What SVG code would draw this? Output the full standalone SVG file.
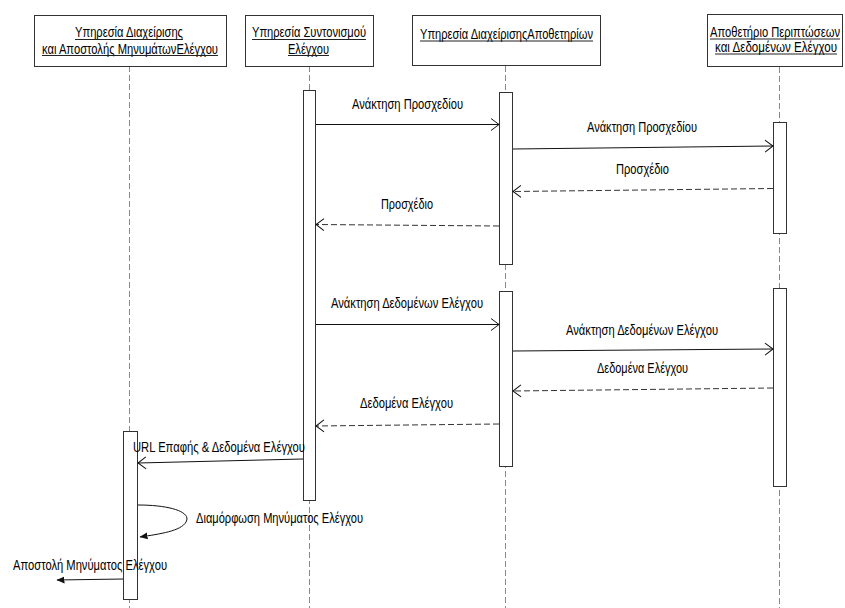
<svg xmlns="http://www.w3.org/2000/svg" width="845" height="608" viewBox="0 0 845 608">
  <style>
    text { font-family: "Liberation Sans Narrow", "Liberation Sans", Arial, sans-serif; font-size: 15px; fill: #000; }
    .small { font-size: 14px; }
    .box { fill: #fff; stroke: #333; stroke-width: 1; }
    .ul { stroke: #222; stroke-width: 1; }
    .life { stroke: #888; stroke-width: 1; stroke-dasharray: 6 3; fill: none; }
    .act { fill: #fff; stroke: #333; stroke-width: 1; }
    .msg { stroke: #111; stroke-width: 1; fill: none; }
    .ret { stroke: #333; stroke-width: 1; stroke-dasharray: 6 3; fill: none; }
  </style>
  <defs>
    <marker id="open" viewBox="0 0 10 14" refX="9" refY="7" markerWidth="10" markerHeight="14" markerUnits="userSpaceOnUse" orient="auto">
      <path d="M1,1 L9,7 L1,13" fill="none" stroke="#111" stroke-width="1"/>
    </marker>
    <marker id="solid" viewBox="0 0 8 8" refX="7.5" refY="4" markerWidth="8" markerHeight="8" markerUnits="userSpaceOnUse" orient="auto">
      <path d="M0,0.5 L8,4 L0,7.5 Z" fill="#111"/>
    </marker>
  </defs>

  <rect width="845" height="608" fill="#fff"/>

  <!-- lifelines -->
  <g id="lifelines">
    <line class="life" x1="129.5" y1="66" x2="129.5" y2="608"/>
    <line class="life" x1="309.5" y1="66" x2="309.5" y2="608"/>
    <line class="life" x1="505.5" y1="66" x2="505.5" y2="608"/>
    <line class="life" x1="779.5" y1="67" x2="779.5" y2="608"/>
  </g>

  <!-- participants -->
  <g id="participant-messages">
    <rect class="box" x="34.5" y="15.5" width="192" height="51"/>
    <text x="129" y="37" text-anchor="middle" textLength="108" lengthAdjust="spacingAndGlyphs">Υπηρεσία Διαχείρισης</text>
    <line class="ul" x1="75" y1="39.5" x2="183" y2="39.5"/>
    <text x="130" y="53.5" text-anchor="middle" textLength="176" lengthAdjust="spacingAndGlyphs">και Αποστολής ΜηνυμάτωνΕλέγχου</text>
    <line class="ul" x1="42" y1="55.5" x2="218" y2="55.5"/>
  </g>
  <g id="participant-coordination">
    <rect class="box" x="245.5" y="15.5" width="128" height="51"/>
    <text x="309" y="37" text-anchor="middle" textLength="114" lengthAdjust="spacingAndGlyphs">Υπηρεσία Συντονισμού</text>
    <line class="ul" x1="252" y1="39.5" x2="366" y2="39.5"/>
    <text x="308.5" y="53.5" text-anchor="middle" textLength="41" lengthAdjust="spacingAndGlyphs">Ελέγχου</text>
    <line class="ul" x1="288" y1="55.5" x2="329" y2="55.5"/>
  </g>
  <g id="participant-repository-service">
    <rect class="box" x="412.5" y="15.5" width="188" height="50"/>
    <text x="506.5" y="38.5" text-anchor="middle" textLength="173" lengthAdjust="spacingAndGlyphs">Υπηρεσία ΔιαχείρισηςΑποθετηρίων</text>
    <line class="ul" x1="420" y1="41" x2="593" y2="41"/>
  </g>
  <g id="participant-repository">
    <rect class="box" x="707.5" y="14.5" width="135" height="52"/>
    <text class="small" x="775" y="36.5" text-anchor="middle" textLength="130" lengthAdjust="spacingAndGlyphs">Αποθετήριο Περιπτώσεων</text>
    <line class="ul" x1="710" y1="39" x2="840" y2="39"/>
    <text class="small" x="776" y="52" text-anchor="middle" textLength="122" lengthAdjust="spacingAndGlyphs">και Δεδομένων Ελέγχου</text>
    <line class="ul" x1="715" y1="54" x2="837" y2="54"/>
  </g>

  <!-- activation bars -->
  <g id="activations">
    <rect class="act" x="303.5" y="90.5" width="12" height="410"/>
    <rect class="act" x="499.5" y="92.5" width="13" height="172"/>
    <rect class="act" x="773.5" y="122.5" width="13" height="111"/>
    <rect class="act" x="499.5" y="291.5" width="13" height="175"/>
    <rect class="act" x="773.5" y="288.5" width="13" height="198"/>
    <rect class="act" x="123.5" y="431.5" width="14" height="168"/>
  </g>

  <!-- messages -->
  <g id="connectors">
    <line class="msg" x1="316" y1="124.5" x2="499" y2="124.5" marker-end="url(#open)"/>
    <line class="msg" x1="513" y1="149" x2="773" y2="146" marker-end="url(#open)"/>
    <line class="ret" x1="773" y1="188.5" x2="513" y2="191.5" marker-end="url(#open)"/>
    <line class="ret" x1="499" y1="226" x2="316" y2="224.5" marker-end="url(#open)"/>
    <line class="msg" x1="316" y1="324.5" x2="499" y2="324.5" marker-end="url(#open)"/>
    <line class="msg" x1="513" y1="351" x2="773" y2="349" marker-end="url(#open)"/>
    <line class="ret" x1="773" y1="388" x2="513" y2="391" marker-end="url(#open)"/>
    <line class="ret" x1="499" y1="424" x2="316" y2="426" marker-end="url(#open)"/>
    <line class="msg" x1="303" y1="459" x2="138" y2="463" marker-end="url(#open)"/>
    <path class="msg" d="M138,505 C170,505 192,512 186,522 C181,531 160,534 140,537" marker-end="url(#solid)"/>
    <line class="msg" x1="123" y1="579" x2="57" y2="580" marker-end="url(#solid)"/>
  </g>

  <!-- message labels -->
  <g id="labels">
    <text x="407.5" y="109" text-anchor="middle" textLength="111" lengthAdjust="spacingAndGlyphs">Ανάκτηση Προσχεδίου</text>
    <text x="642" y="132" text-anchor="middle" textLength="110" lengthAdjust="spacingAndGlyphs">Ανάκτηση Προσχεδίου</text>
    <text x="642.5" y="174" text-anchor="middle" textLength="53" lengthAdjust="spacingAndGlyphs">Προσχέδιο</text>
    <text x="407" y="209" text-anchor="middle" textLength="52" lengthAdjust="spacingAndGlyphs">Προσχέδιο</text>
    <text x="407" y="308" text-anchor="middle" textLength="152" lengthAdjust="spacingAndGlyphs">Ανάκτηση Δεδομένων Ελέγχου</text>
    <text x="642" y="335" text-anchor="middle" textLength="152" lengthAdjust="spacingAndGlyphs">Ανάκτηση Δεδομένων Ελέγχου</text>
    <text x="642.5" y="373" text-anchor="middle" textLength="91" lengthAdjust="spacingAndGlyphs">Δεδομένα Ελέγχου</text>
    <text x="406.5" y="408" text-anchor="middle" textLength="93" lengthAdjust="spacingAndGlyphs">Δεδομένα Ελέγχου</text>
    <text x="133" y="452" textLength="172" lengthAdjust="spacingAndGlyphs">URL Επαφής &amp; Δεδομένα Ελέγχου</text>
    <text x="196" y="523" textLength="167" lengthAdjust="spacingAndGlyphs">Διαμόρφωση Μηνύματος Ελέγχου</text>
    <text x="13" y="570" textLength="154" lengthAdjust="spacingAndGlyphs">Αποστολή Μηνύματος Ελέγχου</text>
  </g>
</svg>
